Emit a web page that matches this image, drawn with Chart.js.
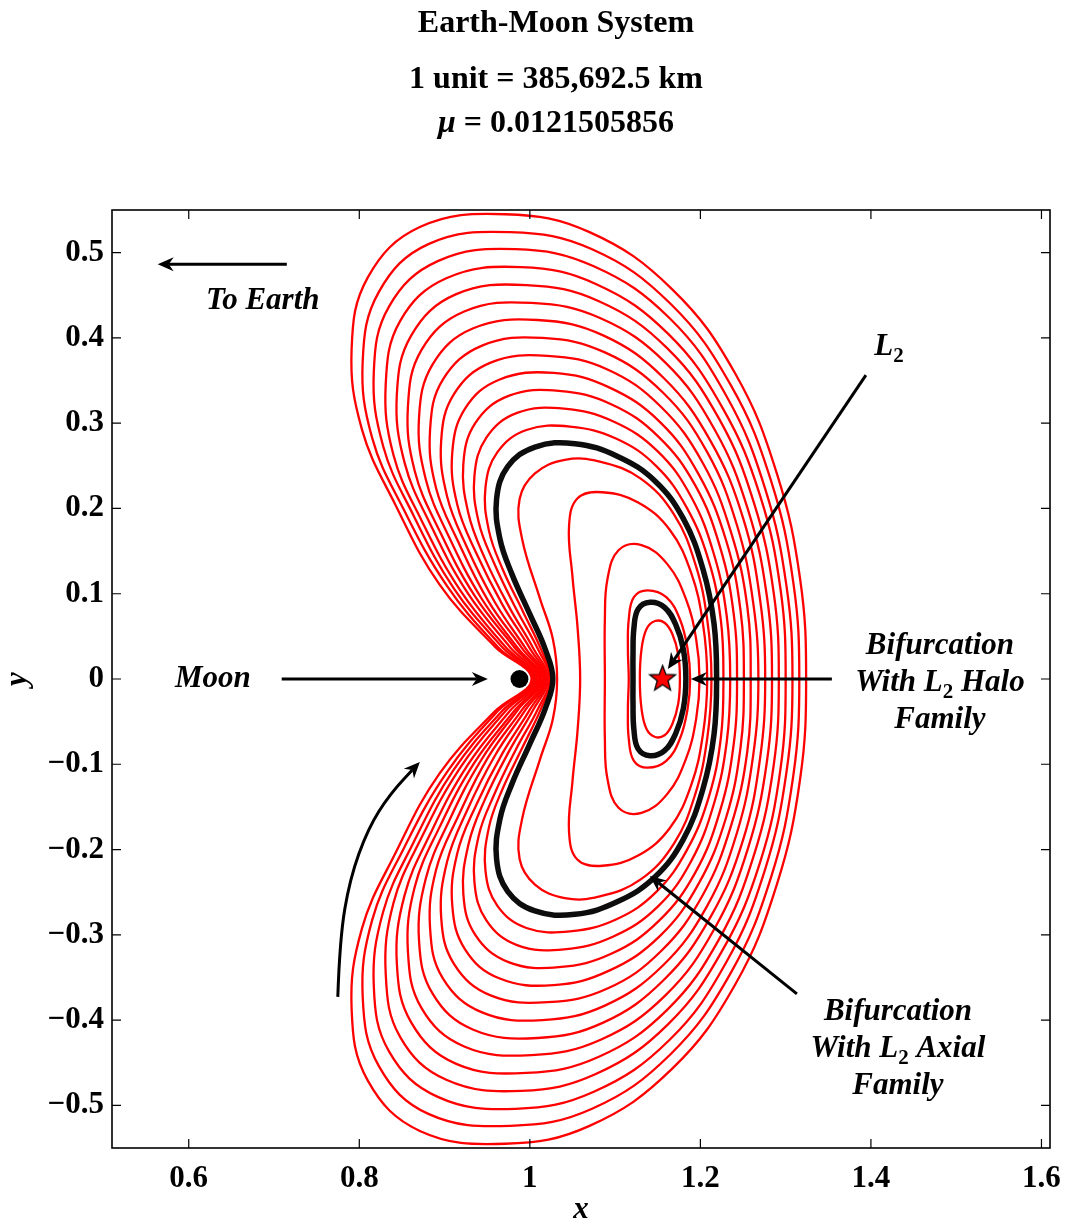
<!DOCTYPE html>
<html>
<head>
<meta charset="utf-8">
<title>Earth-Moon System</title>
<script src="https://cdn.jsdelivr.net/npm/chart.js@4.4.1/dist/chart.umd.min.js"></script>
<style>
  html, body { margin: 0; padding: 0; background: #ffffff; }
  canvas { display: block; }
</style>
</head>
<body>
<canvas id="orbits" width="1066" height="1226"></canvas>
<script>
// ---- axis ticks ----
const xTicks = [0.6, 0.8, 1, 1.2, 1.4, 1.6];
const yTicks = [-0.5, -0.4, -0.3, -0.2, -0.1, 0, 0.1, 0.2, 0.3, 0.4, 0.5];

// ---- bodies (nondimensional rotating frame) ----
const moonPosition = [0.98785, 0];
const l2Position = [1.1557, 0];

// ---- periodic orbits: upper halves, from the far-side x-axis crossing,
//      over the top, down to the Moon-side crossing (the family is symmetric in y) ----
const lyapunovInner = [
  [[1.176, 0], [1.174, 0.029], [1.167, 0.053], [1.158, 0.066], [1.147, 0.068], [1.137, 0.059], [1.131, 0.035], [1.129, 0]],
  [[1.188, 0], [1.185, 0.035], [1.176, 0.070], [1.160, 0.096], [1.138, 0.104], [1.122, 0.096], [1.116, 0.070], [1.115, 0.035], [1.116, 0]],
  [[1.199, 0], [1.195, 0.047], [1.183, 0.094], [1.161, 0.135], [1.131, 0.157], [1.104, 0.151], [1.091, 0.117], [1.088, 0.070], [1.088, 0]],
  [[1.208, 0], [1.203, 0.065], [1.189, 0.125], [1.164, 0.175], [1.127, 0.207], [1.085, 0.219], [1.056, 0.212], [1.046, 0.180], [1.050, 0.120], [1.056, 0.060], [1.059, 0]],
  [[1.213, 0], [1.208, 0.070], [1.194, 0.135], [1.169, 0.193], [1.130, 0.235], [1.082, 0.255], [1.041, 0.257], [1.006, 0.241], [0.988, 0.211], [0.991, 0.164], [1.012, 0.094], [1.027, 0.047], [1.032, 0]]
];

const lyapunovOuter = [
  [[1.324, 0], [1.317, 0.117], [1.290, 0.240], [1.241, 0.358], [1.167, 0.457], [1.070, 0.524], [0.971, 0.545], [0.871, 0.530], [0.810, 0.471], [0.791, 0.387], [0.803, 0.293], [0.842, 0.205], [0.894, 0.111], [0.959, 0.038], [1.002, 0]],
  [[1.316, 0], [1.309, 0.113], [1.283, 0.232], [1.236, 0.344], [1.165, 0.440], [1.073, 0.504], [0.977, 0.524], [0.881, 0.510], [0.823, 0.454], [0.804, 0.373], [0.815, 0.283], [0.852, 0.199], [0.903, 0.109], [0.963, 0.037], [1.004, 0]],
  [[1.308, 0], [1.301, 0.109], [1.276, 0.223], [1.231, 0.331], [1.164, 0.423], [1.075, 0.484], [0.983, 0.504], [0.892, 0.490], [0.835, 0.437], [0.817, 0.360], [0.828, 0.273], [0.863, 0.193], [0.911, 0.106], [0.968, 0.037], [1.006, 0]],
  [[1.300, 0], [1.294, 0.105], [1.270, 0.215], [1.226, 0.318], [1.162, 0.405], [1.078, 0.463], [0.990, 0.483], [0.902, 0.470], [0.848, 0.420], [0.831, 0.346], [0.840, 0.263], [0.873, 0.186], [0.919, 0.103], [0.972, 0.037], [1.008, 0]],
  [[1.292, 0], [1.286, 0.101], [1.263, 0.206], [1.222, 0.305], [1.161, 0.388], [1.081, 0.443], [0.996, 0.462], [0.913, 0.451], [0.861, 0.403], [0.844, 0.333], [0.853, 0.254], [0.884, 0.180], [0.927, 0.101], [0.977, 0.037], [1.010, 0]],
  [[1.284, 0], [1.278, 0.097], [1.256, 0.198], [1.217, 0.292], [1.159, 0.371], [1.083, 0.423], [1.002, 0.441], [0.923, 0.431], [0.873, 0.386], [0.857, 0.319], [0.865, 0.244], [0.894, 0.174], [0.935, 0.098], [0.982, 0.037], [1.012, 0]],
  [[1.276, 0], [1.270, 0.093], [1.250, 0.189], [1.212, 0.279], [1.157, 0.353], [1.086, 0.403], [1.009, 0.421], [0.933, 0.411], [0.886, 0.369], [0.870, 0.306], [0.878, 0.234], [0.905, 0.167], [0.943, 0.095], [0.986, 0.036], [1.014, 0]],
  [[1.268, 0], [1.262, 0.089], [1.243, 0.180], [1.208, 0.266], [1.156, 0.336], [1.088, 0.383], [1.015, 0.400], [0.944, 0.391], [0.898, 0.351], [0.883, 0.292], [0.890, 0.224], [0.916, 0.161], [0.951, 0.092], [0.991, 0.036], [1.016, 0]],
  [[1.259, 0], [1.255, 0.085], [1.236, 0.172], [1.203, 0.253], [1.154, 0.319], [1.091, 0.363], [1.021, 0.379], [0.954, 0.371], [0.911, 0.334], [0.896, 0.279], [0.903, 0.214], [0.926, 0.155], [0.959, 0.090], [0.995, 0.036], [1.018, 0]],
  [[1.251, 0], [1.247, 0.081], [1.230, 0.163], [1.198, 0.240], [1.153, 0.301], [1.093, 0.342], [1.028, 0.359], [0.964, 0.351], [0.924, 0.317], [0.909, 0.265], [0.915, 0.204], [0.937, 0.148], [0.968, 0.087], [1.000, 0.036], [1.019, 0]],
  [[1.243, 0], [1.239, 0.077], [1.223, 0.155], [1.194, 0.227], [1.151, 0.284], [1.096, 0.322], [1.034, 0.338], [0.975, 0.332], [0.936, 0.300], [0.922, 0.252], [0.928, 0.194], [0.947, 0.142], [0.976, 0.084], [1.004, 0.036], [1.021, 0]],
  [[1.235, 0], [1.231, 0.073], [1.216, 0.146], [1.189, 0.214], [1.150, 0.267], [1.098, 0.302], [1.040, 0.317], [0.985, 0.312], [0.949, 0.283], [0.935, 0.238], [0.940, 0.184], [0.958, 0.136], [0.984, 0.082], [1.009, 0.036], [1.023, 0]],
  [[1.227, 0], [1.224, 0.069], [1.210, 0.138], [1.184, 0.201], [1.148, 0.250], [1.101, 0.282], [1.047, 0.296], [0.996, 0.292], [0.962, 0.266], [0.948, 0.225], [0.952, 0.174], [0.968, 0.129], [0.992, 0.079], [1.013, 0.035], [1.025, 0]]
];

// bifurcating members of the family
const haloBifurcationOrbit = [[1.183, 0], [1.180, 0.035], [1.171, 0.064], [1.158, 0.084], [1.141, 0.090], [1.127, 0.082], [1.122, 0.059], [1.121, 0.029], [1.121, 0]];
const axialBifurcationOrbit = [[1.219, 0], [1.216, 0.065], [1.203, 0.129], [1.180, 0.188], [1.147, 0.232], [1.103, 0.261], [1.053, 0.276], [1.006, 0.272], [0.974, 0.249], [0.961, 0.211], [0.965, 0.164], [0.979, 0.123], [1.000, 0.076], [1.018, 0.035], [1.027, 0]];

// ---- styling ----
const FAMILY = '"Liberation Serif", "Times New Roman", Times, serif';
const F_TITLE = `bold 32px ${FAMILY}`;
const F_TITLE_IT = `italic bold 32px ${FAMILY}`;
const F_ITAL = `italic bold 31px ${FAMILY}`;
const F_SUB = `bold 21px ${FAMILY}`;

// Close an orbit: upper half, then its mirror image below the x-axis.
// One extra point is added at each end so the spline joins smoothly;
// the first and last segments are hidden.
function closedOrbit(upper) {
  const lower = upper.slice(0, -1).reverse().map(([x, y]) => [x, -y]);
  const loop = upper.concat(lower);
  const pts = [lower[lower.length - 2]].concat(loop, [upper[1]]);
  return pts.map(([x, y]) => ({ x, y }));
}

function orbitDataset(upper, color, width, order) {
  const data = closedOrbit(upper);
  const n = data.length;
  return {
    data,
    showLine: true,
    borderColor: color,
    borderWidth: width,
    pointRadius: 0,
    tension: 0.4,
    order,
    segment: {
      borderColor: ctx => (ctx.p0DataIndex === 0 || ctx.p1DataIndex === n - 1) ? 'rgba(0,0,0,0)' : undefined
    }
  };
}

// filled five-pointed star used as the L2 marker
function starMarker(r) {
  const c = document.createElement('canvas');
  const s = Math.ceil(2 * r + 4);
  c.width = s; c.height = s;
  const g = c.getContext('2d');
  g.translate(s / 2, s / 2);
  g.beginPath();
  for (let i = 0; i < 10; i++) {
    const rad = i % 2 === 0 ? r : r * 0.42;
    const a = -Math.PI / 2 + i * Math.PI / 5;
    const px = rad * Math.cos(a), py = rad * Math.sin(a);
    if (i === 0) g.moveTo(px, py); else g.lineTo(px, py);
  }
  g.closePath();
  g.fillStyle = '#ff0000';
  g.fill();
  g.lineWidth = 1.3;
  g.strokeStyle = '#000000';
  g.stroke();
  return c;
}

const datasets = [];
datasets.push({
  data: [{ x: l2Position[0], y: l2Position[1] }],
  pointStyle: starMarker(13.5), pointRadius: 14, showLine: false, order: 0
});
datasets.push({
  data: [{ x: moonPosition[0], y: moonPosition[1] }],
  pointStyle: 'circle', pointRadius: 9, pointBackgroundColor: '#000', pointBorderWidth: 0, showLine: false, order: 0
});
datasets.push(orbitDataset(haloBifurcationOrbit, '#0d0d0d', 5.5, 1));
datasets.push(orbitDataset(axialBifurcationOrbit, '#0d0d0d', 5.5, 1));
lyapunovInner.forEach(o => datasets.push(orbitDataset(o, '#ff0000', 2.3, 2)));
lyapunovOuter.forEach(o => datasets.push(orbitDataset(o, '#ff0000', 2.3, 2)));

// ---- annotations (data coordinates) ----
const arrows = [
  { from: [0.715, 0.4865], to: [0.5636, 0.4865] },     // towards Earth
  { from: [0.709, 0], to: [0.9507, 0] },               // Moon
  { from: [1.3941, 0.3564], to: [1.1619, 0.0117] },    // L2
  { from: [1.3542, 0], to: [1.1889, 0] },              // halo bifurcation
  { from: [1.3132, -0.3693], to: [1.1408, -0.2309] }   // axial bifurcation
];
const motionArrow = [[0.7748, -0.3728], [0.7771, -0.3048], [0.7889, -0.2345], [0.8100, -0.1758], [0.8358, -0.1348], [0.8710, -0.0973]];

const labels = [
  { at: [0.6868, 0.4455], segs: [{ t: 'To Earth', f: F_ITAL }] },
  { at: [0.6282, 0.0023], segs: [{ t: 'Moon', f: F_ITAL }] },
  { at: [1.4211, 0.3916], segs: [{ t: 'L', f: F_ITAL }, { t: '2', f: F_SUB, dy: 7 }] },
  { at: [1.4809, 0.0410], segs: [{ t: 'Bifurcation', f: F_ITAL }] },
  { at: [1.4809, -0.0023], segs: [{ t: 'With L', f: F_ITAL }, { t: '2', f: F_SUB, dy: 7 }, { t: ' Halo', f: F_ITAL }] },
  { at: [1.4809, -0.0457], segs: [{ t: 'Family', f: F_ITAL }] },
  { at: [1.4317, -0.3880], segs: [{ t: 'Bifurcation', f: F_ITAL }] },
  { at: [1.4317, -0.4314], segs: [{ t: 'With L', f: F_ITAL }, { t: '2', f: F_SUB, dy: 7 }, { t: ' Axial', f: F_ITAL }] },
  { at: [1.4317, -0.4748], segs: [{ t: 'Family', f: F_ITAL }] }
];

function richText(ctx, segs, cx, cy) {
  let w = 0;
  segs.forEach(s => { ctx.font = s.f; s.w = ctx.measureText(s.t).width; w += s.w; });
  let x = cx - w / 2;
  ctx.textAlign = 'left';
  ctx.textBaseline = 'alphabetic';
  segs.forEach(s => { ctx.font = s.f; ctx.fillText(s.t, x, cy + 10 + (s.dy || 0)); x += s.w; });
}

function arrowHead(ctx, x0, y0, x1, y1) {
  const a = Math.atan2(y1 - y0, x1 - x0);
  ctx.save();
  ctx.translate(x1, y1);
  ctx.rotate(a);
  ctx.beginPath();
  ctx.moveTo(0, 0);
  ctx.lineTo(-16, -7);
  ctx.lineTo(-11, 0);
  ctx.lineTo(-16, 7);
  ctx.closePath();
  ctx.fill();
  ctx.restore();
}

const decorations = {
  id: 'decorations',
  afterDraw(chart) {
    const ctx = chart.ctx;
    const xs = chart.scales.x, ys = chart.scales.y;
    const P = (x, y) => [xs.getPixelForValue(x), ys.getPixelForValue(y)];
    const { left, right, top, bottom } = chart.chartArea;
    ctx.save();
    ctx.fillStyle = '#000';
    ctx.strokeStyle = '#000';

    // axes box with inward ticks
    ctx.lineWidth = 1.6;
    ctx.strokeRect(left, top, right - left, bottom - top);
    ctx.lineWidth = 1.2;
    ctx.beginPath();
    xTicks.forEach(v => {
      const x = xs.getPixelForValue(v);
      ctx.moveTo(x, bottom); ctx.lineTo(x, bottom - 9);
      ctx.moveTo(x, top); ctx.lineTo(x, top + 9);
    });
    yTicks.forEach(v => {
      const y = ys.getPixelForValue(v);
      ctx.moveTo(left, y); ctx.lineTo(left + 9, y);
      ctx.moveTo(right, y); ctx.lineTo(right - 9, y);
    });
    ctx.stroke();

    // straight arrows
    ctx.lineWidth = 3;
    ctx.lineCap = 'butt';
    arrows.forEach(a => {
      const [x0, y0] = P(a.from[0], a.from[1]);
      const [x1, y1] = P(a.to[0], a.to[1]);
      const ang = Math.atan2(y1 - y0, x1 - x0);
      ctx.beginPath();
      ctx.moveTo(x0, y0);
      ctx.lineTo(x1 - 11 * Math.cos(ang), y1 - 11 * Math.sin(ang));
      ctx.stroke();
      arrowHead(ctx, x0, y0, x1, y1);
    });

    // curved arrow showing the direction of motion
    const cp = motionArrow.map(p => P(p[0], p[1]));
    ctx.beginPath();
    ctx.moveTo(cp[0][0], cp[0][1]);
    for (let i = 1; i < cp.length - 1; i++) {
      const mx = (cp[i][0] + cp[i + 1][0]) / 2, my = (cp[i][1] + cp[i + 1][1]) / 2;
      ctx.quadraticCurveTo(cp[i][0], cp[i][1], mx, my);
    }
    const last = cp[cp.length - 1], prev = cp[cp.length - 2];
    const ang = Math.atan2(last[1] - prev[1], last[0] - prev[0]);
    ctx.lineTo(last[0] - 11 * Math.cos(ang), last[1] - 11 * Math.sin(ang));
    ctx.stroke();
    arrowHead(ctx, prev[0], prev[1], last[0], last[1]);

    // labels inside the axes
    labels.forEach(l => {
      const [cx, cy] = P(l.at[0], l.at[1]);
      richText(ctx, l.segs, cx, cy);
    });

    // titles
    richText(ctx, [{ t: 'Earth-Moon System', f: F_TITLE }], 556, 22);
    richText(ctx, [{ t: '1 unit = 385,692.5 km', f: F_TITLE }], 556, 78);
    richText(ctx, [{ t: '\u03BC', f: F_TITLE_IT }, { t: ' = 0.0121505856', f: F_TITLE }], 556, 122);

    // axis labels
    richText(ctx, [{ t: 'x', f: F_ITAL }], (left + right) / 2, 1208);
    ctx.save();
    ctx.translate(22, (top + bottom) / 2);
    ctx.rotate(-Math.PI / 2);
    richText(ctx, [{ t: 'y', f: F_ITAL }], 0, -6);
    ctx.restore();

    ctx.restore();
  }
};

function tickText(v) {
  if (v === 0) return '0';
  return (v < 0 ? '\u2212' : '') + String(Math.abs(v));
}

new Chart(document.getElementById('orbits'), {
  type: 'scatter',
  data: { datasets },
  options: {
    responsive: false,
    animation: false,
    events: [],
    layout: { padding: { top: 210, right: 16, left: 0, bottom: 0 } },
    plugins: { legend: { display: false }, tooltip: { enabled: false }, title: { display: false } },
    scales: {
      x: {
        type: 'linear', min: 0.51, max: 1.61,
        grid: { display: false, drawTicks: false },
        border: { display: false },
        afterBuildTicks: s => { s.ticks = xTicks.map(v => ({ value: v })); },
        afterFit: s => { s.height = 78; s.paddingLeft = 0; s.paddingRight = 0; },
        ticks: { color: '#000', font: { family: FAMILY, size: 31, weight: 'bold' }, padding: 12, maxRotation: 0, autoSkip: false, callback: v => tickText(v) }
      },
      y: {
        type: 'linear', min: -0.55, max: 0.55,
        grid: { display: false, drawTicks: false },
        border: { display: false },
        afterBuildTicks: s => { s.ticks = yTicks.map(v => ({ value: v })); },
        afterFit: s => { s.width = 112; s.paddingTop = 0; s.paddingBottom = 0; },
        ticks: { color: '#000', font: { family: FAMILY, size: 31, weight: 'bold' }, padding: 8, autoSkip: false, callback: v => tickText(v) }
      }
    }
  },
  plugins: [decorations]
});
</script>
</body>
</html>
